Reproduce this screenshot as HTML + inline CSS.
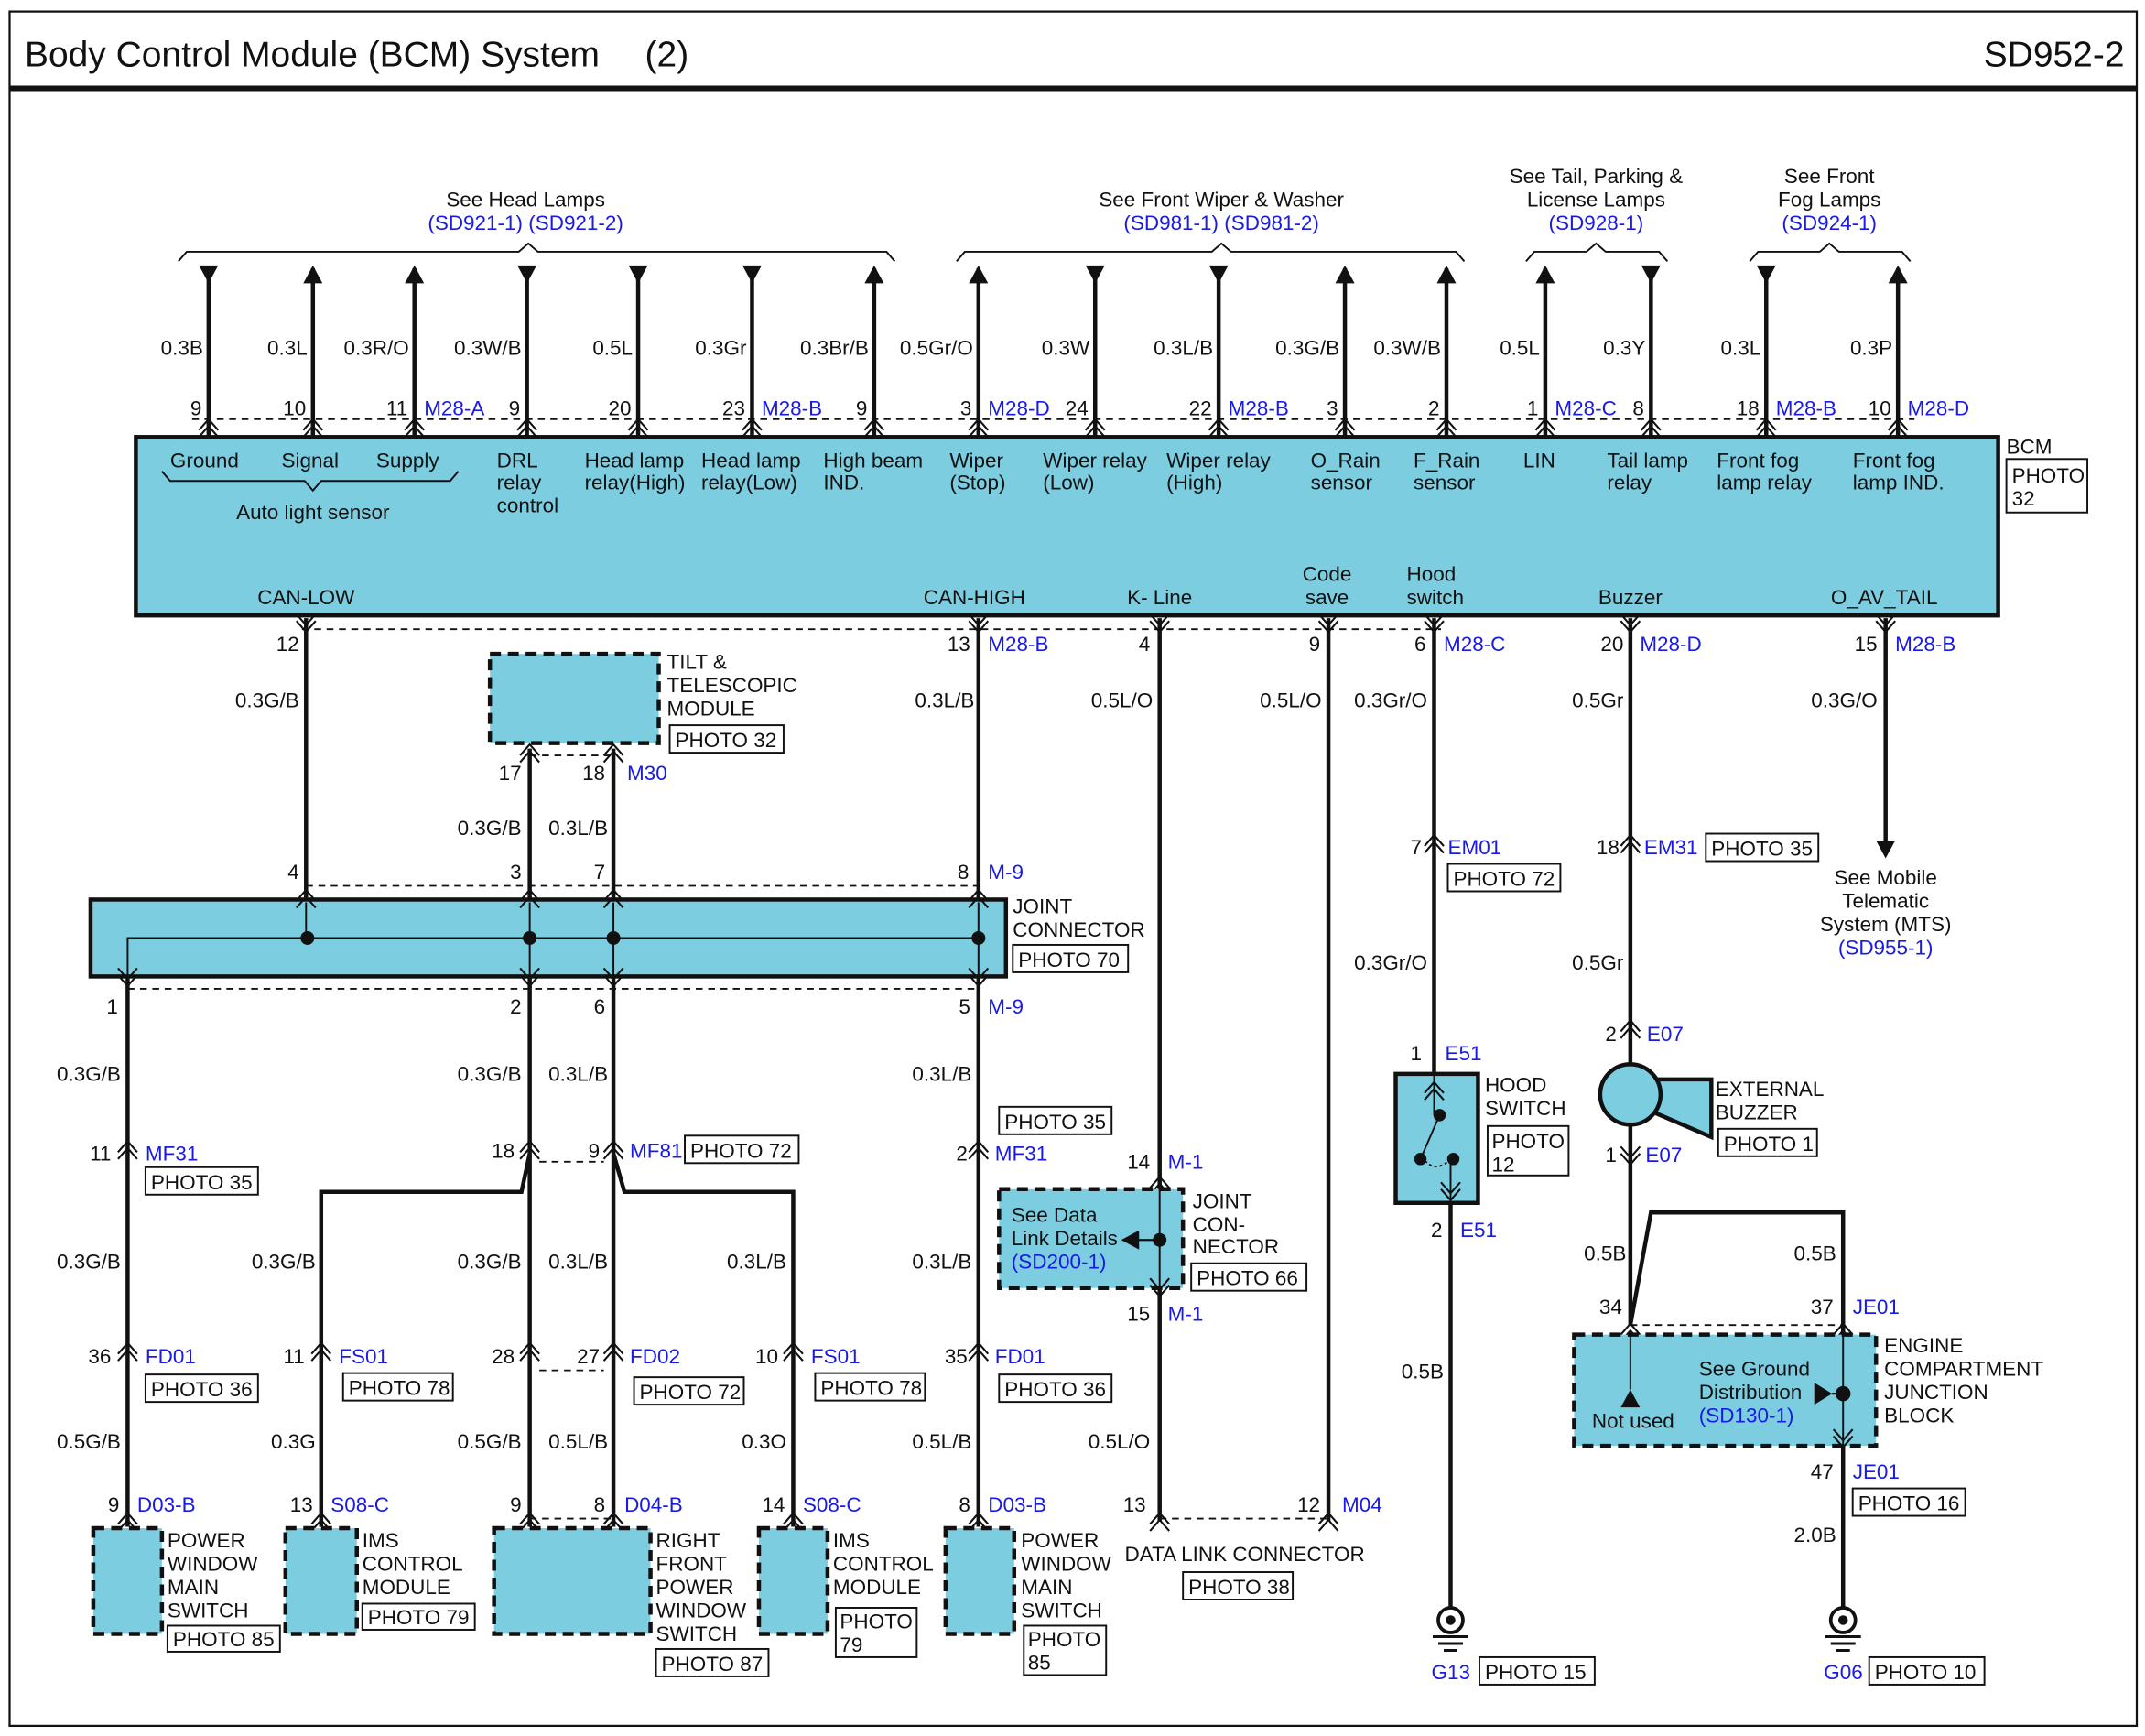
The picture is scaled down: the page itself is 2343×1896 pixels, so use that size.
<!DOCTYPE html>
<html><head><meta charset="utf-8"><style>
html,body{margin:0;padding:0;background:#fff}
svg{display:block}
text{font-family:"Liberation Sans",sans-serif;font-size:15px;fill:#111}
.b{fill:#1a1ae6}
.r{text-anchor:end}
.m{text-anchor:middle}
.w{stroke:#111;stroke-width:3;fill:none}
.tw{stroke:#111;stroke-width:1.3;fill:none}
.d{stroke:#111;stroke-width:1.2;stroke-dasharray:5,4;fill:none}
.bx{fill:#7ccde0;stroke:#111;stroke-width:3}
.dbx{fill:#7ccde0;stroke:#111;stroke-width:3;stroke-dasharray:8,5}
.pb{fill:#fff;stroke:#111;stroke-width:1.3}
</style></head><body>
<svg width="2343" height="1896" viewBox="0 0 1563 1264" xmlns="http://www.w3.org/2000/svg">
<defs>
<g id="c"><path d="M-7,6 L0,-2 L7,6 M-7,11 L0,3 L7,11" stroke="#111" stroke-width="1.4" fill="none"/></g>
<g id="cd"><path d="M-7,-6 L0,2 L7,-6 M-7,-11 L0,-3 L7,-11" stroke="#111" stroke-width="1.4" fill="none"/></g>
<g id="au"><path d="M-7,0 L7,0 L0,-13 Z" fill="#111"/></g>
<g id="ad"><path d="M-7,0 L7,0 L0,13 Z" fill="#111"/></g>
<g id="gnd"><circle cx="0" cy="0" r="9" fill="#fff" stroke="#111" stroke-width="2.5"/><circle cx="0" cy="0" r="3.5" fill="#111"/><path d="M-13,12 H13 M-9,17 H9 M-5,22 H5" stroke="#111" stroke-width="2"/></g>
</defs>
<rect x="7" y="8" width="1550" height="1249" fill="none" stroke="#111" stroke-width="1.5"/>
<line x1="7" y1="64" x2="1557" y2="64" stroke="#111" stroke-width="4"/>
<text x="18" y="48" style="font-size:26px">Body Control Module (BCM) System</text>
<text x="470" y="48" style="font-size:26px">(2)</text>
<text x="1548" y="48" class="r" style="font-size:26px">SD952-2</text>

<!-- braces -->
<path class="tw" d="M130,190 L136,183 L378,183 L385,177 L392,183 L646,183 L652,190"/>
<path class="tw" d="M697,190 L703,183 L883,183 L890,177 L897,183 L1061,183 L1067,190"/>
<path class="tw" d="M1112,190 L1118,183 L1156,183 L1163,177 L1170,183 L1209,183 L1215,190"/>
<path class="tw" d="M1275,190 L1281,183 L1326,183 L1333,177 L1340,183 L1386,183 L1392,190"/>
<text x="383" y="150" class="m">See Head Lamps</text><text x="383" y="167" class="m b">(SD921-1) (SD921-2)</text>
<text x="890" y="150" class="m">See Front Wiper &amp; Washer</text><text x="890" y="167" class="m b">(SD981-1) (SD981-2)</text>
<text x="1163" y="133" class="m">See Tail, Parking &amp;</text><text x="1163" y="150" class="m">License Lamps</text><text x="1163" y="167" class="m b">(SD928-1)</text>
<text x="1333" y="133" class="m">See Front</text><text x="1333" y="150" class="m">Fog Lamps</text><text x="1333" y="167" class="m b">(SD924-1)</text>

<!-- top wires -->
<g class="w">
<path d="M152,195V318M228,195V318M302,195V318M384,195V318M465,195V318M548,195V318M637,195V318M713,195V318M798,195V318M888,195V318M980,195V318M1054,195V318M1126,195V318M1203,195V318M1287,195V318M1383,195V318"/>
</g>
<use href="#ad" x="152" y="193"/><use href="#au" x="228" y="206"/><use href="#au" x="302" y="206"/><use href="#ad" x="384" y="193"/>
<use href="#ad" x="465" y="193"/><use href="#ad" x="548" y="193"/><use href="#au" x="637" y="206"/><use href="#au" x="713" y="206"/>
<use href="#ad" x="798" y="193"/><use href="#ad" x="888" y="193"/><use href="#au" x="980" y="206"/><use href="#au" x="1054" y="206"/>
<use href="#au" x="1126" y="206"/><use href="#ad" x="1203" y="193"/><use href="#ad" x="1287" y="193"/><use href="#au" x="1383" y="206"/>
<path class="d" d="M140,305H1395"/>
<g>
<use href="#c" x="152" y="307"/><use href="#c" x="228" y="307"/><use href="#c" x="302" y="307"/><use href="#c" x="384" y="307"/><use href="#c" x="465" y="307"/><use href="#c" x="548" y="307"/><use href="#c" x="637" y="307"/><use href="#c" x="713" y="307"/><use href="#c" x="798" y="307"/><use href="#c" x="888" y="307"/><use href="#c" x="980" y="307"/><use href="#c" x="1054" y="307"/><use href="#c" x="1126" y="307"/><use href="#c" x="1203" y="307"/><use href="#c" x="1287" y="307"/><use href="#c" x="1383" y="307"/>
</g>
<text x="148" y="258" class="r">0.3B</text><text x="224" y="258" class="r">0.3L</text><text x="298" y="258" class="r">0.3R/O</text><text x="380" y="258" class="r">0.3W/B</text>
<text x="461" y="258" class="r">0.5L</text><text x="544" y="258" class="r">0.3Gr</text><text x="633" y="258" class="r">0.3Br/B</text><text x="709" y="258" class="r">0.5Gr/O</text>
<text x="794" y="258" class="r">0.3W</text><text x="884" y="258" class="r">0.3L/B</text><text x="976" y="258" class="r">0.3G/B</text><text x="1050" y="258" class="r">0.3W/B</text>
<text x="1122" y="258" class="r">0.5L</text><text x="1199" y="258" class="r">0.3Y</text><text x="1283" y="258" class="r">0.3L</text><text x="1379" y="258" class="r">0.3P</text>
<text x="147" y="302" class="r">9</text><text x="223" y="302" class="r">10</text><text x="297" y="302" class="r">11</text><text x="309" y="302" class="b">M28-A</text>
<text x="379" y="302" class="r">9</text><text x="460" y="302" class="r">20</text><text x="543" y="302" class="r">23</text><text x="555" y="302" class="b">M28-B</text>
<text x="632" y="302" class="r">9</text><text x="708" y="302" class="r">3</text><text x="720" y="302" class="b">M28-D</text><text x="793" y="302" class="r">24</text>
<text x="883" y="302" class="r">22</text><text x="895" y="302" class="b">M28-B</text><text x="975" y="302" class="r">3</text><text x="1049" y="302" class="r">2</text>
<text x="1121" y="302" class="r">1</text><text x="1133" y="302" class="b">M28-C</text><text x="1198" y="302" class="r">8</text>
<text x="1282" y="302" class="r">18</text><text x="1294" y="302" class="b">M28-B</text><text x="1378" y="302" class="r">10</text><text x="1390" y="302" class="b">M28-D</text>

<!-- BCM -->
<rect x="99" y="318" width="1357" height="130" class="bx"/>
<text x="149" y="340" class="m">Ground</text><text x="226" y="340" class="m">Signal</text><text x="297" y="340" class="m">Supply</text>
<path class="tw" d="M118,343 L124,350 L222,350 L228,357 L234,350 L328,350 L334,343"/>
<text x="228" y="378" class="m">Auto light sensor</text>
<text x="362" y="340">DRL</text><text x="362" y="356">relay</text><text x="362" y="373">control</text>
<text x="426" y="340">Head lamp</text><text x="426" y="356">relay(High)</text>
<text x="511" y="340">Head lamp</text><text x="511" y="356">relay(Low)</text>
<text x="600" y="340">High beam</text><text x="600" y="356">IND.</text>
<text x="692" y="340">Wiper</text><text x="692" y="356">(Stop)</text>
<text x="760" y="340">Wiper relay</text><text x="760" y="356">(Low)</text>
<text x="850" y="340">Wiper relay</text><text x="850" y="356">(High)</text>
<text x="955" y="340">O_Rain</text><text x="955" y="356">sensor</text>
<text x="1030" y="340">F_Rain</text><text x="1030" y="356">sensor</text>
<text x="1110" y="340">LIN</text>
<text x="1171" y="340">Tail lamp</text><text x="1171" y="356">relay</text>
<text x="1251" y="340">Front fog</text><text x="1251" y="356">lamp relay</text>
<text x="1350" y="340">Front fog</text><text x="1350" y="356">lamp IND.</text>
<text x="1462" y="330">BCM</text>
<rect x="1462" y="334" width="59" height="39" class="pb"/><text x="1466" y="351">PHOTO</text><text x="1466" y="368">32</text>
<text x="223" y="440" class="m">CAN-LOW</text><text x="710" y="440" class="m">CAN-HIGH</text><text x="845" y="440" class="m">K- Line</text>
<text x="967" y="423" class="m">Code</text><text x="967" y="440" class="m">save</text>
<text x="1025" y="423">Hood</text><text x="1025" y="440">switch</text>
<text x="1188" y="440" class="m">Buzzer</text><text x="1373" y="440" class="m">O_AV_TAIL</text>

<!-- bottom pins -->
<path class="d" d="M220,458H1050"/>
<text x="218" y="474" class="r">12</text><text x="707" y="474" class="r">13</text><text x="720" y="474" class="b">M28-B</text>
<text x="838" y="474" class="r">4</text><text x="962" y="474" class="r">9</text><text x="1039" y="474" class="r">6</text><text x="1052" y="474" class="b">M28-C</text>
<text x="1183" y="474" class="r">20</text><text x="1195" y="474" class="b">M28-D</text><text x="1368" y="474" class="r">15</text><text x="1381" y="474" class="b">M28-B</text>
<use href="#cd" x="223" y="458"/><use href="#cd" x="713" y="458"/><use href="#cd" x="845" y="458"/><use href="#cd" x="968" y="458"/><use href="#cd" x="1045" y="458"/><use href="#cd" x="1188" y="458"/><use href="#cd" x="1374" y="458"/>

<g class="w">
<path d="M223,450V655M713,450V655M386,545V655M447,545V655"/>
<path d="M93,711V1112M386,711V840L380,868H234V1112M447,711V840L455,868H578V1112M386,840V1112M447,840V1112M713,711V1112"/>
<path d="M845,450V1108M968,450V1108"/>
<path d="M1045,450V782M1057,876V1170"/>
<path d="M1188,450V775M1188,819V965L1203,883H1343V1170"/>
<path d="M1374,450V615"/>
</g>
<use href="#ad" x="1374" y="612"/>

<text x="218" y="515" class="r">0.3G/B</text><text x="710" y="515" class="r">0.3L/B</text><text x="840" y="515" class="r">0.5L/O</text><text x="963" y="515" class="r">0.5L/O</text>
<text x="1040" y="515" class="r">0.3Gr/O</text><text x="1183" y="515" class="r">0.5Gr</text><text x="1368" y="515" class="r">0.3G/O</text>

<rect x="357" y="476" width="123" height="65" class="dbx"/>
<text x="486" y="487">TILT &amp;</text><text x="486" y="504">TELESCOPIC</text><text x="486" y="521">MODULE</text>
<rect x="488" y="528" width="83" height="20" class="pb"/><text x="492" y="544">PHOTO 32</text>
<path class="d" d="M386,550H447"/>
<use href="#c" x="386" y="544"/><use href="#c" x="447" y="544"/>
<text x="380" y="568" class="r">17</text><text x="441" y="568" class="r">18</text><text x="457" y="568" class="b">M30</text>
<text x="380" y="608" class="r">0.3G/B</text><text x="443" y="608" class="r">0.3L/B</text>

<text x="218" y="640" class="r">4</text><text x="380" y="640" class="r">3</text><text x="441" y="640" class="r">7</text><text x="706" y="640" class="r">8</text><text x="720" y="640" class="b">M-9</text>
<path class="d" d="M223,645H713M93,720H713"/>
<rect x="66" y="655" width="667" height="56" class="bx"/>
<path class="tw" d="M93,711V683H713M223,657V683M386,657V711M447,657V711M713,657V711"/>
<g fill="#111"><circle cx="224" cy="683" r="5"/><circle cx="386" cy="683" r="5"/><circle cx="447" cy="683" r="5"/><circle cx="713" cy="683" r="5"/></g>
<use href="#c" x="223" y="650"/><use href="#c" x="386" y="650"/><use href="#c" x="447" y="650"/><use href="#c" x="713" y="650"/>
<use href="#cd" x="93" y="716"/><use href="#cd" x="386" y="716"/><use href="#cd" x="447" y="716"/><use href="#cd" x="713" y="716"/>
<text x="738" y="665">JOINT</text><text x="738" y="682">CONNECTOR</text>
<rect x="738" y="688" width="84" height="20" class="pb"/><text x="742" y="704">PHOTO 70</text>
<text x="86" y="738" class="r">1</text><text x="380" y="738" class="r">2</text><text x="441" y="738" class="r">6</text><text x="707" y="738" class="r">5</text><text x="720" y="738" class="b">M-9</text>

<text x="88" y="787" class="r">0.3G/B</text><text x="380" y="787" class="r">0.3G/B</text><text x="443" y="787" class="r">0.3L/B</text><text x="708" y="787" class="r">0.3L/B</text>
<rect x="728" y="806" width="82" height="20" class="pb"/><text x="732" y="822">PHOTO 35</text>

<use href="#c" x="93" y="833"/><use href="#c" x="386" y="833"/><use href="#c" x="447" y="833"/><use href="#c" x="713" y="833"/>
<path class="d" d="M393,846H440"/>
<text x="81" y="845" class="r">11</text><text x="106" y="845" class="b">MF31</text>
<rect x="106" y="850" width="82" height="20" class="pb"/><text x="110" y="866">PHOTO 35</text>
<text x="375" y="843" class="r">18</text><text x="437" y="843" class="r">9</text><text x="459" y="843" class="b">MF81</text>
<rect x="499" y="827" width="83" height="20" class="pb"/><text x="503" y="843">PHOTO 72</text>
<text x="705" y="845" class="r">2</text><text x="725" y="845" class="b">MF31</text>

<text x="88" y="924" class="r">0.3G/B</text><text x="230" y="924" class="r">0.3G/B</text><text x="380" y="924" class="r">0.3G/B</text><text x="443" y="924" class="r">0.3L/B</text><text x="573" y="924" class="r">0.3L/B</text><text x="708" y="924" class="r">0.3L/B</text>

<use href="#c" x="93" y="980"/><use href="#c" x="234" y="980"/><use href="#c" x="386" y="980"/><use href="#c" x="447" y="980"/><use href="#c" x="578" y="980"/><use href="#c" x="713" y="980"/>
<path class="d" d="M393,998H440"/>
<text x="81" y="993" class="r">36</text><text x="106" y="993" class="b">FD01</text>
<rect x="106" y="1001" width="82" height="20" class="pb"/><text x="110" y="1017">PHOTO 36</text>
<text x="222" y="993" class="r">11</text><text x="247" y="993" class="b">FS01</text>
<rect x="250" y="1000" width="80" height="20" class="pb"/><text x="254" y="1016">PHOTO 78</text>
<text x="375" y="993" class="r">28</text><text x="437" y="993" class="r">27</text><text x="459" y="993" class="b">FD02</text>
<rect x="462" y="1003" width="80" height="20" class="pb"/><text x="466" y="1019">PHOTO 72</text>
<text x="567" y="993" class="r">10</text><text x="591" y="993" class="b">FS01</text>
<rect x="594" y="1000" width="80" height="20" class="pb"/><text x="598" y="1016">PHOTO 78</text>
<text x="705" y="993" class="r">35</text><text x="725" y="993" class="b">FD01</text>
<rect x="728" y="1001" width="82" height="20" class="pb"/><text x="732" y="1017">PHOTO 36</text>

<text x="88" y="1055" class="r">0.5G/B</text><text x="230" y="1055" class="r">0.3G</text><text x="380" y="1055" class="r">0.5G/B</text><text x="443" y="1055" class="r">0.5L/B</text><text x="573" y="1055" class="r">0.3O</text><text x="708" y="1055" class="r">0.5L/B</text><text x="838" y="1055" class="r">0.5L/O</text>

<text x="87" y="1101" class="r">9</text><text x="100" y="1101" class="b">D03-B</text>
<text x="228" y="1101" class="r">13</text><text x="241" y="1101" class="b">S08-C</text>
<text x="380" y="1101" class="r">9</text><text x="441" y="1101" class="r">8</text><text x="455" y="1101" class="b">D04-B</text>
<text x="572" y="1101" class="r">14</text><text x="585" y="1101" class="b">S08-C</text>
<text x="707" y="1101" class="r">8</text><text x="720" y="1101" class="b">D03-B</text>
<path class="d" d="M386,1106H447"/>
<use href="#c" x="93" y="1104"/><use href="#c" x="234" y="1104"/><use href="#c" x="386" y="1104"/><use href="#c" x="447" y="1104"/><use href="#c" x="578" y="1104"/><use href="#c" x="713" y="1104"/>

<rect x="68" y="1113" width="50" height="77" class="dbx"/>
<text x="122" y="1127">POWER</text><text x="122" y="1144">WINDOW</text><text x="122" y="1161">MAIN</text><text x="122" y="1178">SWITCH</text>
<rect x="122" y="1184" width="82" height="19" class="pb"/><text x="126" y="1199">PHOTO 85</text>
<rect x="208" y="1113" width="52" height="77" class="dbx"/>
<text x="264" y="1127">IMS</text><text x="264" y="1144">CONTROL</text><text x="264" y="1161">MODULE</text>
<rect x="264" y="1168" width="82" height="19" class="pb"/><text x="268" y="1183">PHOTO 79</text>
<rect x="360" y="1113" width="114" height="77" class="dbx"/>
<text x="478" y="1127">RIGHT</text><text x="478" y="1144">FRONT</text><text x="478" y="1161">POWER</text><text x="478" y="1178">WINDOW</text><text x="478" y="1195">SWITCH</text>
<rect x="478" y="1201" width="82" height="20" class="pb"/><text x="482" y="1217">PHOTO 87</text>
<rect x="553" y="1113" width="50" height="77" class="dbx"/>
<text x="607" y="1127">IMS</text><text x="607" y="1144">CONTROL</text><text x="607" y="1161">MODULE</text>
<rect x="609" y="1171" width="59" height="36" class="pb"/><text x="612" y="1186">PHOTO</text><text x="612" y="1203">79</text>
<rect x="689" y="1113" width="50" height="77" class="dbx"/>
<text x="744" y="1127">POWER</text><text x="744" y="1144">WINDOW</text><text x="744" y="1161">MAIN</text><text x="744" y="1178">SWITCH</text>
<rect x="746" y="1184" width="60" height="36" class="pb"/><text x="749" y="1199">PHOTO</text><text x="749" y="1216">85</text>

<text x="838" y="851" class="r">14</text><text x="851" y="851" class="b">M-1</text>
<use href="#c" x="845" y="859"/>
<rect x="728" y="866" width="134" height="72" class="dbx"/>
<path class="tw" d="M845,866V938"/>
<text x="737" y="890">See Data</text><text x="737" y="907">Link Details</text><text x="737" y="924" class="b">(SD200-1)</text>
<path d="M845,903H828" stroke="#111" stroke-width="1.5"/><path d="M817,903L830,896V910Z" fill="#111"/>
<circle cx="845" cy="903" r="5" fill="#111"/>
<use href="#cd" x="845" y="942"/>
<text x="869" y="880">JOINT</text><text x="869" y="897">CON-</text><text x="869" y="913">NECTOR</text>
<rect x="868" y="920" width="84" height="20" class="pb"/><text x="872" y="936">PHOTO 66</text>
<text x="838" y="962" class="r">15</text><text x="851" y="962" class="b">M-1</text>
<text x="835" y="1101" class="r">13</text><text x="962" y="1101" class="r">12</text><text x="978" y="1101" class="b">M04</text>
<path class="d" d="M845,1106H968"/>
<use href="#c" x="845" y="1104"/><use href="#c" x="968" y="1104"/>
<text x="907" y="1137" class="m">DATA LINK CONNECTOR</text>
<rect x="862" y="1145" width="80" height="20" class="pb"/><text x="866" y="1161">PHOTO 38</text>

<use href="#c" x="1045" y="610"/>
<text x="1036" y="622" class="r">7</text><text x="1055" y="622" class="b">EM01</text>
<rect x="1055" y="629" width="82" height="20" class="pb"/><text x="1059" y="645">PHOTO 72</text>
<text x="1040" y="706" class="r">0.3Gr/O</text>
<text x="1036" y="772" class="r">1</text><text x="1053" y="772" class="b">E51</text>
<rect x="1017" y="782" width="60" height="94" class="bx"/>
<path class="tw" d="M1045,782V812M1049,812L1036,842M1057,844V876"/>
<path d="M1036,842Q1045,856 1057,844" stroke="#111" stroke-width="1.2" stroke-dasharray="2,2" fill="none"/>
<g fill="#111"><circle cx="1049" cy="812" r="4.5"/><circle cx="1035" cy="844" r="4.5"/><circle cx="1059" cy="844" r="4.5"/></g>
<use href="#c" x="1045" y="790"/><use href="#cd" x="1057" y="872"/>
<text x="1082" y="795">HOOD</text><text x="1082" y="812">SWITCH</text>
<rect x="1084" y="820" width="59" height="36" class="pb"/><text x="1087" y="836">PHOTO</text><text x="1087" y="853">12</text>
<text x="1051" y="901" class="r">2</text><text x="1064" y="901" class="b">E51</text>
<text x="1052" y="1004" class="r">0.5B</text>
<use href="#gnd" x="1057" y="1180"/>
<text x="1043" y="1223" class="b">G13</text>
<rect x="1078" y="1207" width="84" height="20" class="pb"/><text x="1082" y="1223">PHOTO 15</text>

<use href="#c" x="1188" y="610"/>
<text x="1180" y="622" class="r">18</text><text x="1198" y="622" class="b">EM31</text>
<rect x="1243" y="607" width="82" height="20" class="pb"/><text x="1247" y="623">PHOTO 35</text>
<text x="1183" y="706" class="r">0.5Gr</text>
<use href="#c" x="1188" y="745"/>
<text x="1178" y="758" class="r">2</text><text x="1200" y="758" class="b">E07</text>
<path d="M1208,786L1247,786V828L1205,810Z" class="bx"/>
<circle cx="1188" cy="797" r="22" class="bx"/>
<text x="1250" y="798">EXTERNAL</text><text x="1250" y="815">BUZZER</text>
<rect x="1252" y="822" width="72" height="20" class="pb"/><text x="1256" y="838">PHOTO 1</text>
<use href="#cd" x="1188" y="846"/>
<text x="1178" y="846" class="r">1</text><text x="1199" y="846" class="b">E07</text>
<text x="1185" y="918" class="r">0.5B</text><text x="1338" y="918" class="r">0.5B</text>
<text x="1182" y="957" class="r">34</text><text x="1336" y="957" class="r">37</text><text x="1350" y="957" class="b">JE01</text>
<path class="d" d="M1188,965H1343"/>
<use href="#c" x="1188" y="966"/><use href="#c" x="1343" y="966"/>
<rect x="1147" y="972" width="220" height="81" class="dbx"/>
<path class="tw" d="M1188,972V1012M1343,972V1053"/>
<path d="M1181,1025H1195L1188,1012Z" fill="#111"/>
<use href="#cd" x="1343" y="1052"/>
<text x="1190" y="1040" class="m">Not used</text>
<text x="1238" y="1002">See Ground</text><text x="1238" y="1019">Distribution</text><text x="1238" y="1036" class="b">(SD130-1)</text>
<path d="M1322,1007L1335,1015L1322,1023Z" fill="#111"/><path d="M1335,1015H1343" stroke="#111" stroke-width="1.5"/>
<circle cx="1343" cy="1015" r="5.5" fill="#111"/>
<text x="1373" y="985">ENGINE</text><text x="1373" y="1002">COMPARTMENT</text><text x="1373" y="1019">JUNCTION</text><text x="1373" y="1036">BLOCK</text>
<text x="1336" y="1077" class="r">47</text><text x="1350" y="1077" class="b">JE01</text>
<rect x="1350" y="1084" width="82" height="20" class="pb"/><text x="1354" y="1100">PHOTO 16</text>
<text x="1338" y="1123" class="r">2.0B</text>
<use href="#gnd" x="1343" y="1180"/>
<text x="1329" y="1223" class="b">G06</text>
<rect x="1362" y="1207" width="84" height="20" class="pb"/><text x="1366" y="1223">PHOTO 10</text>

<text x="1374" y="644" class="m">See Mobile</text><text x="1374" y="661" class="m">Telematic</text><text x="1374" y="678" class="m">System (MTS)</text><text x="1374" y="695" class="m b">(SD955-1)</text>
</svg>
</body></html>
